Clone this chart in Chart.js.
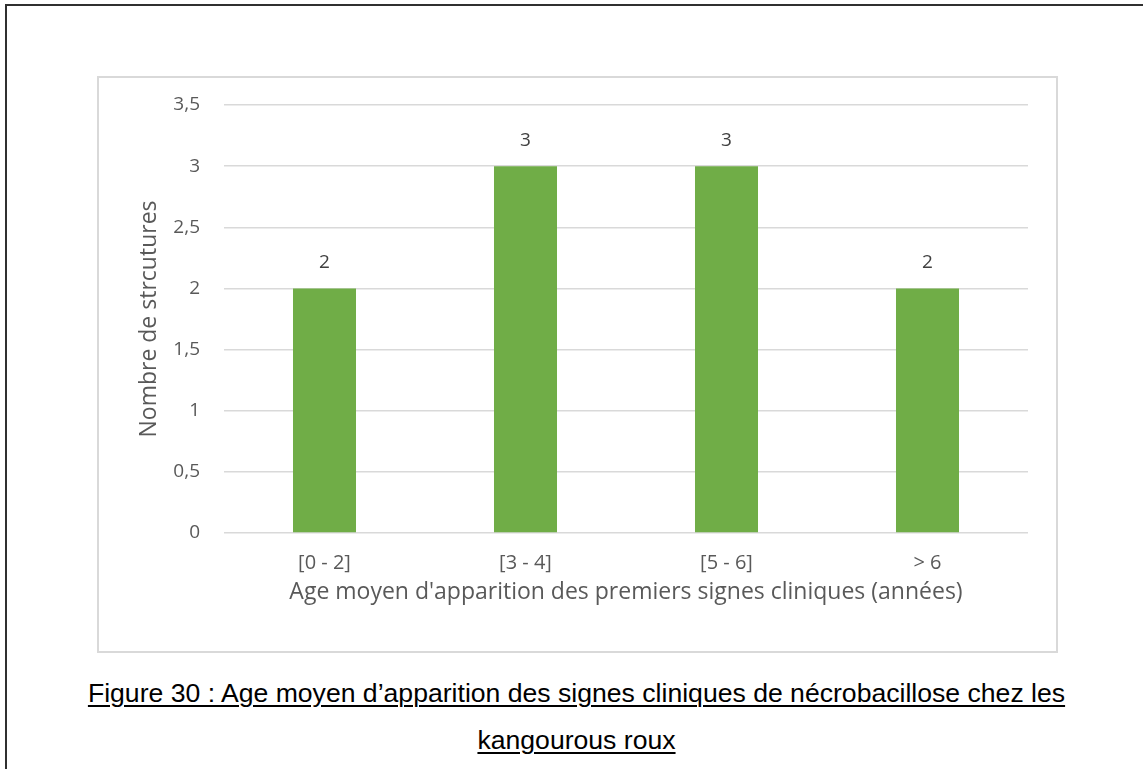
<!DOCTYPE html>
<html>
<head>
<meta charset="utf-8">
<script src="https://cdn.jsdelivr.net/npm/chart.js@4"></script>
<style>
  html, body { margin: 0; padding: 0; background: #fff; overflow: hidden; }
  body { width: 1143px; height: 769px; position: relative; }
  #frame {
    position: absolute; left: 5px; top: 4px; width: 1300px; height: 900px;
    border-left: 2px solid #303030; border-top: 2px solid #303030;
  }
  #box {
    position: absolute; left: 97px; top: 76px; width: 961px; height: 577px;
    border: 2px solid #d9d9d9; box-sizing: border-box;
  }
  #ageChart { position: absolute; left: 0; top: 0; }
  .caption {
    position: absolute; left: 0; width: 1153px; text-align: center;
    font-family: "Liberation Sans", Arial, sans-serif; font-size: 26.6px;
    color: #000; line-height: 30px;
  }
  .caption span { text-decoration: underline; text-underline-offset: 3px; text-decoration-thickness: 2px; }
</style>
</head>
<body>
<div id="frame"></div>
<div id="box"><canvas id="ageChart" width="957" height="573"></canvas></div>
<div class="caption" style="top:678px"><span>Figure 30 : Age moyen d’apparition des signes cliniques de nécrobacillose chez les</span></div>
<div class="caption" style="top:725px"><span>kangourous roux</span></div>
<script>
const categories = ["[0 - 2]", "[3 - 4]", "[5 - 6]", "> 6"]
const structures = [2, 3, 3, 2]
const yTickLabels = ["0", "0,5", "1", "1,5", "2", "2,5", "3", "3,5"]

const FONT = "'Open Sans', sans-serif"

// value labels above the bars
const valueLabels = {
  id: "valueLabels",
  afterDatasetsDraw(chart) {
    const ctx = chart.ctx
    ctx.save()
    ctx.font = "19px " + FONT
    ctx.fillStyle = "#404040"
    ctx.textAlign = "center"
    ctx.textBaseline = "middle"
    chart.getDatasetMeta(0).data.forEach((bar, i) => {
      ctx.fillText(String(structures[i]), bar.x, bar.y - 26)
    })
    ctx.restore()
  },
}

document.addEventListener("DOMContentLoaded", () => {
  new Chart(document.getElementById("ageChart"), {
    type: "bar",
    data: {
      labels: categories,
      datasets: [
        {
          label: "Nombre de strcutures",
          data: structures,
          backgroundColor: "#70ad47",
          categoryPercentage: 1,
          barPercentage: 0.3135,
        },
      ],
    },
    options: {
      responsive: false,
      animation: false,
      layout: { padding: { top: 27, right: 28, left: 0, bottom: 0 } },
      plugins: {
        legend: { display: false },
        tooltip: { enabled: false },
      },
      scales: {
        x: {
          grid: { display: false },
          border: { display: false },
          ticks: { color: "#595959", font: { family: FONT, size: 20 }, padding: 10 },
          title: {
            display: true,
            text: "Age moyen d'apparition des premiers signes cliniques (années)",
            color: "#595959",
            font: { family: FONT, size: 23 },
            padding: { top: 0, bottom: 45 },
          },
          afterFit: (s) => { s.height = 118 },
        },
        y: {
          min: 0,
          max: 3.5,
          grid: { color: "#d9d9d9", lineWidth: 1.5, drawTicks: false },
          border: { display: false },
          ticks: {
            stepSize: 0.5,
            color: "#595959",
            font: { family: FONT, size: 19 },
            padding: 24,
            callback: (v, i) => yTickLabels[i],
          },
          title: {
            display: true,
            text: "Nombre de strcutures",
            color: "#595959",
            font: { family: FONT, size: 23 },
            padding: { top: 37, bottom: 0 },
          },
          afterFit: (s) => {
            s.width = 125
            s.paddingTop = 0
            s.paddingBottom = 0
          },
        },
      },
    },
    plugins: [valueLabels],
  })
})
</script>
</body>
</html>
